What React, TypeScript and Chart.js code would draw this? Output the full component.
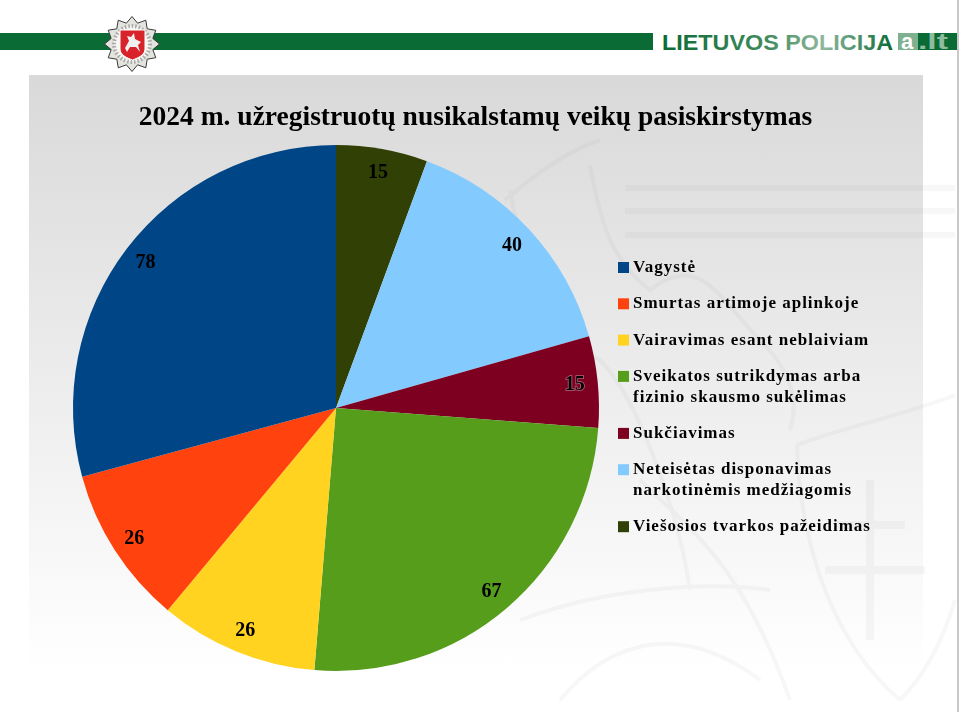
import React, { useEffect, useRef } from "react";
import { Chart, registerables } from "chart.js";

Chart.register(...registerables);

const titleText = "2024 m. užregistruotų nusikalstamų veikų pasiskirstymas";
const categories = [
  "Vagystė",
  "Smurtas artimoje aplinkoje",
  "Vairavimas esant neblaiviam",
  "Sveikatos sutrikdymas arba fizinio skausmo sukėlimas",
  "Sukčiavimas",
  "Neteisėtas disponavimas narkotinėmis medžiagomis",
  "Viešosios tvarkos pažeidimas",
];
const legendLines = [
  ["Vagystė"],
  ["Smurtas artimoje aplinkoje"],
  ["Vairavimas esant neblaiviam"],
  ["Sveikatos sutrikdymas arba", "fizinio skausmo sukėlimas"],
  ["Sukčiavimas"],
  ["Neteisėtas disponavimas", "narkotinėmis medžiagomis"],
  ["Viešosios tvarkos pažeidimas"],
];
const values = [78, 26, 26, 67, 15, 40, 15];
const colors = ["#004586", "#ff420e", "#ffd320", "#579d1c", "#7e0021", "#83caff", "#314004"];

const SERIF = '"Liberation Serif", serif';

// The slices run anticlockwise from the top in legend order, so the dataset is reversed.
const drawLabels = {
  id: "pieText",
  afterDatasetsDraw(chart: any) {
    const { ctx } = chart;
    const arcs = chart.getDatasetMeta(0).data;
    ctx.save();
    ctx.textAlign = "center";
    ctx.textBaseline = "middle";
    ctx.font = `bold 20px ${SERIF}`;
    arcs.forEach((arc: any, i: number) => {
      const mid = (arc.startAngle + arc.endAngle) / 2;
      const r = arc.outerRadius * 0.912;
      const x = arc.x + Math.cos(mid) * r;
      const y = arc.y + Math.sin(mid) * r + 1;
      const v = chart.data.datasets[0].data[i];
      if (chart.data.labels[i] === "Sukčiavimas") {
        ctx.strokeStyle = "rgba(255,255,255,0.4)";
        ctx.lineWidth = 1.5;
        ctx.strokeText(String(v), x, y);
      }
      ctx.fillStyle = "#000";
      ctx.fillText(String(v), x, y);
    });
    ctx.restore();
  },
  afterDraw(chart: any) {
    const { ctx } = chart;
    ctx.save();
    ctx.fillStyle = "#000";
    ctx.textBaseline = "alphabetic";
    ctx.textAlign = "center";
    ctx.font = `bold 27.5px ${SERIF}`;
    ctx.fillText(titleText, 475.5, 125);
    ctx.textAlign = "left";
    ctx.font = `bold 17px ${SERIF}`;
    (ctx as any).letterSpacing = "1px";
    let y = 267;
    legendLines.forEach((lines, i) => {
      ctx.fillStyle = colors[i];
      ctx.fillRect(618, y - 5, 11, 11);
      ctx.fillStyle = "#000";
      lines.forEach((line, j) => {
        ctx.fillText(line, 633, y + 5 + j * 20.7);
      });
      y += 36.3 + (lines.length - 1) * 20.7;
    });
    ctx.restore();
  },
};

const starPoints = (() => {
  const pts: string[] = [];
  for (let i = 0; i < 24; i++) {
    const a = (i * Math.PI) / 12 - Math.PI / 2;
    const r = i % 2 === 0 ? 27.5 : 21.5;
    pts.push(`${(132 + Math.cos(a) * r).toFixed(1)},${(44 + Math.sin(a) * r).toFixed(1)}`);
  }
  return pts.join(" ");
})();

function Backdrop() {
  return (
    <svg width={962} height={712} style={{ position: "absolute", left: 0, top: 0 }}>
      <defs>
        <linearGradient id="panel" x1="0" y1="0" x2="0" y2="1">
          <stop offset="0" stopColor="#d9d9d9" />
          <stop offset="1" stopColor="#ffffff" />
        </linearGradient>
        <linearGradient id="word" x1="0" y1="0" x2="1" y2="0">
          <stop offset="0" stopColor="#0b6b35" />
          <stop offset="0.45" stopColor="#3f8a5c" />
          <stop offset="0.7" stopColor="#8fb89d" />
          <stop offset="1" stopColor="#0b6b35" />
        </linearGradient>
      </defs>
      <rect x={29} y={75} width={894} height={596} fill="url(#panel)" />
      {/* faint watermark */}
      <g fill="none" stroke="#8a8a8a" strokeOpacity={0.07} strokeWidth={4}>
        <path d="M625 188H955M625 211H955M625 235H955" strokeWidth={6} />
        <path d="M797 445C850 425 905 415 955 395M797 445C800 540 830 640 900 700M955 600C940 650 920 680 900 700" />
        <path d="M870 480V640M835 525H905M825 570H925" strokeWidth={8} />
        <path d="M590 165C600 220 610 260 650 290C700 250 720 300 760 340C790 370 800 400 790 430" />
        <path d="M600 360C640 400 680 520 690 590M640 480C690 530 740 560 790 700M520 620C600 590 700 580 770 590M560 700C610 640 680 620 760 680" />
        <path d="M505 200C540 170 570 150 600 140M510 190C530 300 560 340 600 360" />
      </g>
      {/* header */}
      <rect x={0} y={33} width={653} height={17} fill="#0b6b35" />
      <text
        x={662}
        y={50}
        fontFamily='"Liberation Sans", sans-serif'
        fontWeight="bold"
        fontSize={22.5}
        textLength={231}
        lengthAdjust="spacingAndGlyphs"
        fill="url(#word)"
      >
        LIETUVOS POLICIJA
      </text>
      <rect x={898} y={33} width={60} height={17} fill="#0b6b35" />
      <rect x={898} y={33} width={20} height={17} fill="#7fb08f" />
      <text x={901} y={49} fontFamily='"Liberation Sans", sans-serif' fontWeight="bold" fontSize={22} fill="#ffffff">
        a
      </text>
      <text
        x={918}
        y={49}
        fontFamily='"Liberation Sans", sans-serif'
        fontWeight="bold"
        fontSize={22}
        textLength={30}
        lengthAdjust="spacingAndGlyphs"
        fill="#8fbc9f"
      >
        .lt
      </text>
      <rect x={957} y={0} width={2} height={712} fill="#c9c9c9" />
      {/* badge */}
      <polygon points={starPoints} fill="#e4e4de" stroke="#3a3a3a" strokeWidth={1} />
      <circle cx={132} cy={44} r={18} fill="#f6f6f2" stroke="#a8a8a8" strokeWidth={4} strokeDasharray="1.5 2" />
      <path d="M120 30H145V49C145 55 138 58 132.500 60C127 58 120 55 120 49Z" fill="#d8232a" stroke="#fff" strokeWidth={1} />
      <path d="M125 48L129 41L127 36L131 37L134 33L135 39L141 42L138 45L140 52L136 47L130 47L127 52Z" fill="#efefef" />
    </svg>
  );
}

export default function App() {
  const ref = useRef<HTMLCanvasElement | null>(null);
  useEffect(() => {
    document.body.style.margin = "0";
    const chart = new Chart(ref.current as HTMLCanvasElement, {
      type: "pie",
      data: {
        labels: [...categories].reverse(),
        datasets: [
          {
            data: [...values].reverse(),
            backgroundColor: [...colors].reverse(),
            borderWidth: 0,
          },
        ],
      },
      options: {
        responsive: false,
        animation: false,
        layout: { padding: { left: 73, right: 363, top: 145, bottom: 41 } },
        plugins: { legend: { display: false }, tooltip: { enabled: false } },
      },
      plugins: [drawLabels],
    } as any);
    return () => chart.destroy();
  }, []);
  return (
    <div style={{ position: "relative", width: 962, height: 712, background: "#fff", overflow: "hidden" }}>
      <Backdrop />
      <canvas ref={ref} width={962} height={712} style={{ position: "absolute", left: 0, top: 0 }} />
    </div>
  );
}
